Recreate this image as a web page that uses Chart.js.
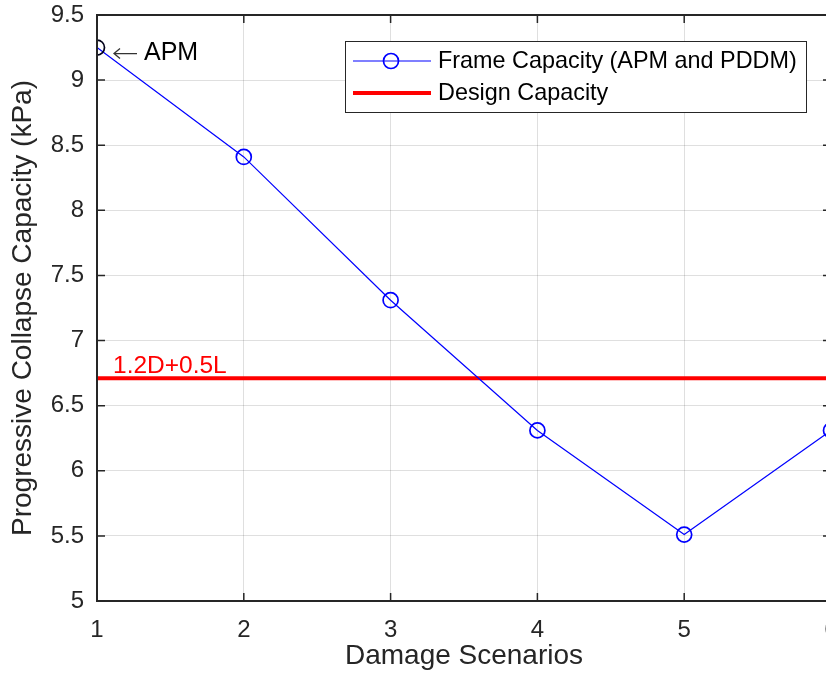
<!DOCTYPE html>
<html>
<head>
<meta charset="utf-8">
<script src="https://cdn.jsdelivr.net/npm/chart.js@4.4.1/dist/chart.umd.min.js"></script>
<style>
  html, body { margin: 0; padding: 0; background: #fff; overflow: hidden; }
  #wrap { width: 850px; height: 685px; }
</style>
</head>
<body>
<div id="wrap"><canvas id="grafico"></canvas></div>
<script>
// dados
const cenarios = [1, 2, 3, 4, 5, 6];
const capacidadePortico = [9.25, 8.41, 7.31, 6.31, 5.51, 6.31];
const capacidadeProjeto = 6.71;
const ticksY = [5, 5.5, 6, 6.5, 7, 7.5, 8, 8.5, 9, 9.5];

const corEixo = "#262626";
const fonte = "'Liberation Sans', Arial, sans-serif";

// caixa do eixo (topo e direita) + ticks para dentro
const caixaPlugin = {
  id: "caixa",
  afterDraw(chart) {
    const { ctx, chartArea: a, scales } = chart;
    ctx.save();
    ctx.strokeStyle = corEixo;
    ctx.lineWidth = 2;
    ctx.strokeRect(a.left, a.top, a.right - a.left, a.bottom - a.top);
    ctx.lineWidth = 1.5;
    ctx.beginPath();
    scales.x.ticks.forEach(t => {
      const px = scales.x.getPixelForValue(t.value);
      ctx.moveTo(px, a.bottom); ctx.lineTo(px, a.bottom - 8);
      ctx.moveTo(px, a.top); ctx.lineTo(px, a.top + 8);
    });
    scales.y.ticks.forEach(t => {
      const py = scales.y.getPixelForValue(t.value);
      ctx.moveTo(a.left, py); ctx.lineTo(a.left + 8, py);
      ctx.moveTo(a.right, py); ctx.lineTo(a.right - 8, py);
    });
    ctx.stroke();
    ctx.restore();
  }
};

// anotações: "← APM" e "1.2D+0.5L"
const anotacoesPlugin = {
  id: "anotacoes",
  afterDatasetsDraw(chart) {
    const { ctx, scales } = chart;
    const x1 = scales.x.getPixelForValue(cenarios[0]);
    const yApm = scales.y.getPixelForValue(capacidadePortico[0]) + 6;
    ctx.save();
    // seta fina (\leftarrow)
    ctx.strokeStyle = "#333";
    ctx.lineWidth = 1.3;
    ctx.beginPath();
    ctx.moveTo(x1 + 17, yApm); ctx.lineTo(x1 + 40, yApm);
    ctx.moveTo(x1 + 23, yApm - 5); ctx.lineTo(x1 + 17, yApm); ctx.lineTo(x1 + 23, yApm + 5);
    ctx.stroke();
    ctx.textBaseline = "middle";
    ctx.fillStyle = "#000";
    ctx.font = "25px " + fonte;
    ctx.fillText("APM", x1 + 47, yApm);
    ctx.fillStyle = "#ff0000";
    ctx.textBaseline = "alphabetic";
    ctx.font = "24.5px " + fonte;
    ctx.fillText("1.2D+0.5L", x1 + 16, scales.y.getPixelForValue(capacidadeProjeto) - 5);
    ctx.restore();
  }
};

// legenda dentro da área do gráfico, estilo MATLAB
const legendaPlugin = {
  id: "legendaInterna",
  afterDraw(chart) {
    const { ctx } = chart;
    const x0 = 345, y0 = 41, w = 461, h = 71;
    ctx.save();
    ctx.fillStyle = "#fff";
    ctx.fillRect(x0, y0, w, h);
    ctx.strokeStyle = corEixo;
    ctx.lineWidth = 1;
    ctx.strokeRect(x0 + 0.5, y0 + 0.5, w, h);
    ctx.font = "23.4px " + fonte;
    ctx.textBaseline = "middle";
    chart.data.datasets.forEach((ds, i) => {
      const yy = y0 + 20 + i * 32;
      ctx.strokeStyle = ds.borderColor;
      ctx.lineWidth = ds.borderWidth;
      ctx.beginPath();
      ctx.moveTo(x0 + 8, yy); ctx.lineTo(x0 + 86, yy);
      ctx.stroke();
      if (ds.pointRadius > 0) {
        ctx.lineWidth = ds.pointBorderWidth;
        ctx.beginPath();
        ctx.arc(x0 + 46, yy, ds.pointRadius, 0, Math.PI * 2);
        ctx.stroke();
      }
      ctx.fillStyle = "#000";
      ctx.fillText(ds.label, x0 + 93, yy + 1);
    });
    ctx.restore();
  }
};

const ctx = document.getElementById("grafico").getContext("2d");

new Chart(ctx, {
  type: "line",
  data: {
    datasets: [
      {
        label: "Frame Capacity (APM and PDDM)",
        data: cenarios.map((c, i) => ({ x: c, y: capacidadePortico[i] })),
        borderColor: "#0000ff",
        borderWidth: 1.2,
        pointRadius: 7.5,
        pointBorderWidth: 1.7,
        pointBorderColor: cenarios.map((c, i) => i === 0 ? "#00001a" : "#0000ff"),
        pointBackgroundColor: "rgba(0,0,0,0)",
        tension: 0
      },
      {
        label: "Design Capacity",
        data: [{ x: cenarios[0], y: capacidadeProjeto }, { x: cenarios[cenarios.length - 1], y: capacidadeProjeto }],
        borderColor: "#ff0000",
        borderWidth: 4,
        pointRadius: 0,
        tension: 0
      }
    ]
  },
  options: {
    responsive: true,
    maintainAspectRatio: false,
    animation: false,
    events: [],
    layout: { padding: { top: 15, right: 19, left: 0, bottom: 0 } },
    plugins: {
      legend: { display: false },
      tooltip: { enabled: false }
    },
    scales: {
      x: {
        type: "linear",
        min: 1,
        max: 6,
        afterBuildTicks: s => { s.ticks = cenarios.map(v => ({ value: v })); },
        afterFit: s => { s.height = 84; s.paddingLeft = 0; s.paddingRight = 0; },
        grid: { color: "rgba(38,38,38,0.15)", drawTicks: false },
        border: { display: false },
        ticks: { color: corEixo, font: { family: fonte, size: 24 }, padding: 15, maxRotation: 0, autoSkip: false, callback: v => String(v) },
        title: {
          display: true,
          text: "Damage Scenarios",
          color: corEixo,
          font: { family: fonte, size: 28 },
          padding: { top: 0, bottom: 12 }
        }
      },
      y: {
        min: 5,
        max: 9.5,
        afterBuildTicks: s => { s.ticks = ticksY.map(v => ({ value: v })); },
        afterFit: s => { s.width = 97; s.paddingTop = 0; s.paddingBottom = 0; },
        grid: { color: "rgba(38,38,38,0.15)", drawTicks: false },
        border: { display: false },
        ticks: { color: corEixo, font: { family: fonte, size: 24 }, padding: 13, callback: v => String(v) },
        title: {
          display: true,
          text: "Progressive Collapse Capacity (kPa)",
          color: corEixo,
          font: { family: fonte, size: 28 },
          padding: { top: 6, bottom: 0 }
        }
      }
    }
  },
  plugins: [caixaPlugin, anotacoesPlugin, legendaPlugin]
});
</script>
</body>
</html>
